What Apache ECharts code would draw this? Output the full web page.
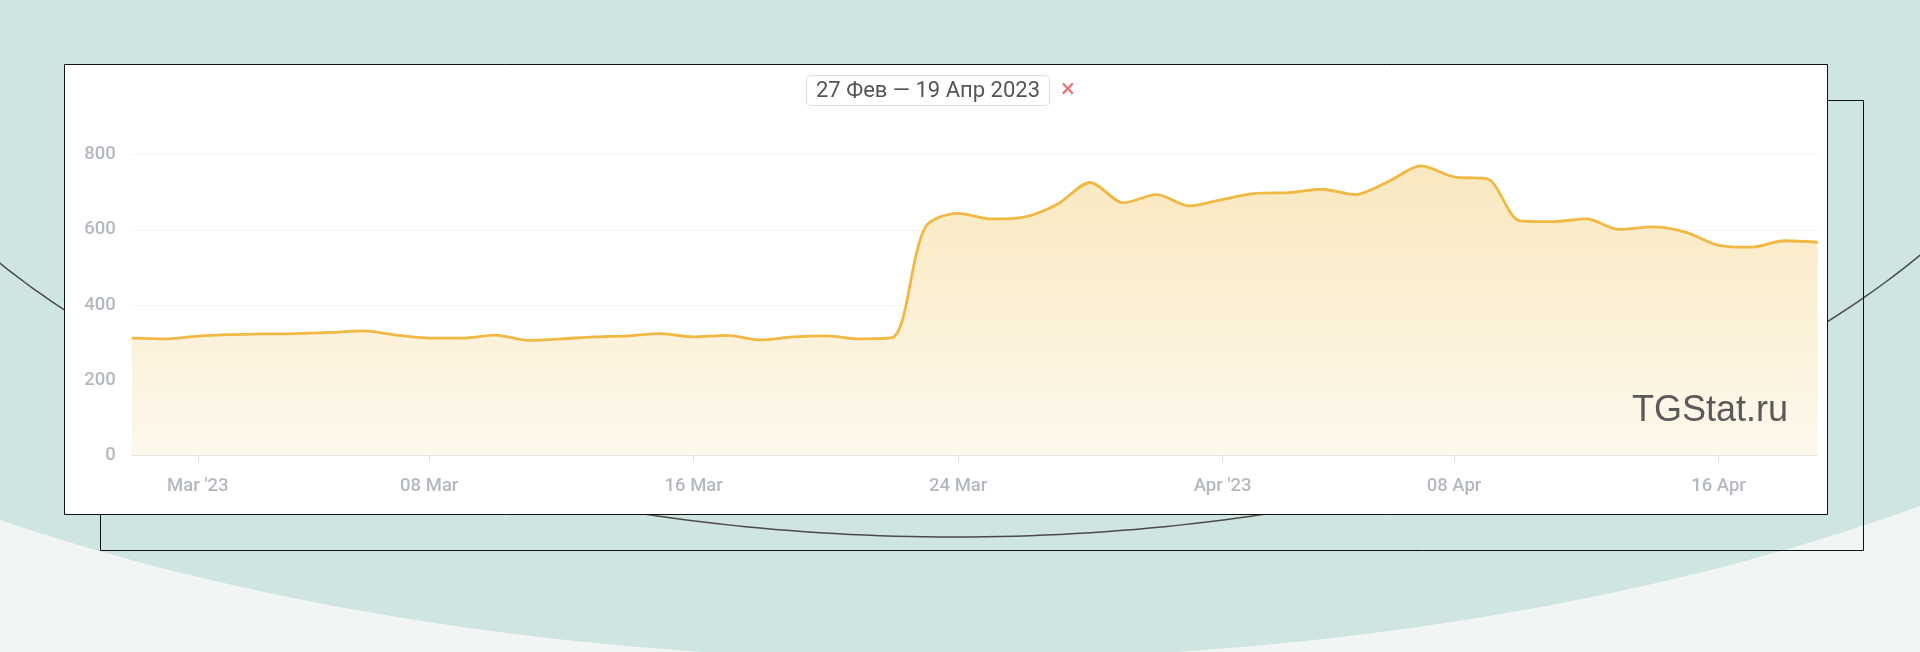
<!DOCTYPE html>
<html>
<head>
<meta charset="utf-8">
<script src="https://cdn.jsdelivr.net/npm/echarts@6/dist/echarts.min.js"></script>
<style>
html,body{margin:0;padding:0;background:#f1f6f5;}
#c{width:1920px;height:652px;}
</style>
</head>
<body>
<div id="c"></div>
<script>
// ---- data ----
const dates = [
  '2023-02-27','2023-02-28',
  '2023-03-01','2023-03-02','2023-03-03','2023-03-04','2023-03-05','2023-03-06','2023-03-07',
  '2023-03-08','2023-03-09','2023-03-10','2023-03-11','2023-03-12','2023-03-13','2023-03-14',
  '2023-03-15','2023-03-16','2023-03-17','2023-03-18','2023-03-19','2023-03-20','2023-03-21',
  '2023-03-22','2023-03-23','2023-03-24','2023-03-25','2023-03-26','2023-03-27','2023-03-28',
  '2023-03-29','2023-03-30','2023-03-31',
  '2023-04-01','2023-04-02','2023-04-03','2023-04-04','2023-04-05','2023-04-06','2023-04-07',
  '2023-04-08','2023-04-09','2023-04-10','2023-04-11','2023-04-12','2023-04-13','2023-04-14',
  '2023-04-15','2023-04-16','2023-04-17','2023-04-18','2023-04-19'
];
const subscribers = [
  312, 310,
  317, 321, 323, 324, 327, 331, 320,
  312, 312, 320, 306, 310, 315, 318,
  324, 315, 319, 307, 315, 318, 310,
  313, 606, 644, 629, 634, 668, 726,
  672, 694, 664,
  681, 697, 699, 708, 694, 728, 770,
  741, 736, 624, 622, 629, 601, 608,
  594, 559, 554, 571, 567
];
const tickDates  = ['2023-03-01','2023-03-08','2023-03-16','2023-03-24','2023-04-01','2023-04-08','2023-04-16'];
const tickLabels = ["Mar '23",  '08 Mar',    '16 Mar',    '24 Mar',    "Apr '23",   '08 Apr',    '16 Apr'];
const yTicks = [0, 200, 400, 600, 800];
const rangeText = '27 Фев — 19 Апр 2023';
const watermark = 'TGStat.ru';

// ---- decorative background geometry ----
function ellipsePts(cx, cy, rx, ry, t0, t1, n) {
  const pts = [];
  for (let i = 0; i <= n; i++) {
    const t = t0 + (t1 - t0) * i / n;
    pts.push([cx + rx * Math.cos(t), cy + ry * Math.sin(t)]);
  }
  return pts;
}
const tealShape = ellipsePts(940, 26, 1500, 634, 0, Math.PI * 2, 360);
const arcLine = ellipsePts(955, -81, 1150, 618, 0, Math.PI, 240);

const chart = echarts.init(document.getElementById('c'));
const labelFont = 'Roboto, "Open Sans", sans-serif';

chart.setOption({
  backgroundColor: '#f1f6f5',
  animation: false,
  graphic: [
    { type: 'polygon', z: -20, silent: true, shape: { points: tealShape }, style: { fill: '#cfe5e2' } },
    { type: 'polyline', z: -19, silent: true, shape: { points: arcLine }, style: { stroke: '#4a4a4a', lineWidth: 1.5, fill: null } },
    { type: 'rect', z: -18, silent: true, shape: { x: 100.5, y: 100.5, width: 1763, height: 450 }, style: { fill: null, stroke: '#111', lineWidth: 1 } },
    { type: 'rect', z: -17, silent: true, shape: { x: 64.5, y: 64.5, width: 1763, height: 450 }, style: { fill: '#ffffff', stroke: '#111', lineWidth: 1 } },
    { type: 'rect', z: 10, silent: true, shape: { x: 806.5, y: 75.5, width: 243, height: 30, r: 4 }, style: { fill: '#ffffff', stroke: '#dedede', lineWidth: 1 } },
    { type: 'text', z: 11, silent: true, style: { text: rangeText, x: 928, y: 91, align: 'center', verticalAlign: 'middle', font: '22px ' + labelFont, fill: '#555555' } },
    { type: 'text', z: 11, silent: true, style: { text: '×', x: 1068, y: 90, align: 'center', verticalAlign: 'middle', font: '26px ' + labelFont, fill: '#e57373' } },
    { type: 'text', z: 11, silent: true, style: { text: watermark, x: 1788, y: 411, align: 'right', verticalAlign: 'middle', font: '36px "Liberation Sans", Arial, sans-serif', fill: '#5a5a5a' } }
  ],
  grid: { left: 131.7, right: 102.3, top: 154.7, bottom: 196.7 },
  xAxis: {
    type: 'category',
    data: dates,
    boundaryGap: false,
    axisLine: { show: true, lineStyle: { color: '#e3e4e6', width: 1 } },
    axisTick: {
      show: true, length: 7,
      interval: (i, v) => tickDates.indexOf(v) >= 0,
      lineStyle: { color: '#e0e1e3' }
    },
    axisLabel: {
      interval: (i, v) => tickDates.indexOf(v) >= 0,
      formatter: v => { const k = tickDates.indexOf(v); return k >= 0 ? tickLabels[k] : ''; },
      color: '#b4b8bf', fontSize: 18.5, fontFamily: labelFont, fontWeight: 500, margin: 22
    },
    splitLine: { show: false }
  },
  yAxis: {
    type: 'value',
    min: yTicks[0], max: yTicks[yTicks.length - 1], interval: 200,
    axisLine: { show: false },
    axisTick: { show: false },
    axisLabel: { color: '#b4b8bf', fontSize: 18.5, fontFamily: labelFont, fontWeight: 500, margin: 16, padding: [0, 0, 8, 0] },
    splitLine: { show: true, lineStyle: { color: '#f5f5f5', width: 1 } }
  },
  series: [{
    type: 'line',
    data: subscribers,
    smooth: 0.3,
    showSymbol: false,
    lineStyle: { color: '#f1b843', width: 2.8 },
    itemStyle: { color: '#f1b843' },
    areaStyle: {
      color: new echarts.graphic.LinearGradient(0, 0, 0, 1, [
        { offset: 0, color: '#f7dea3' },
        { offset: 1, color: '#fdf6e6' }
      ])
    }
  }]
});
</script>
</body>
</html>
